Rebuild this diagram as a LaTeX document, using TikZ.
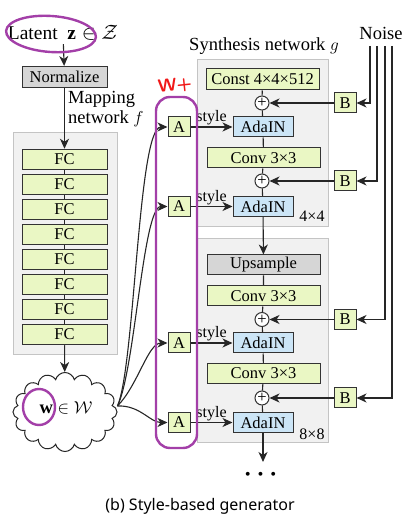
\documentclass[tikz,border=0pt]{standalone}
\usepackage{amsmath,amssymb}
\usepackage{fontspec}
\setmainfont{Liberation Serif}
\newfontfamily\capfont{Noto Sans}
\usetikzlibrary{arrows.meta,shapes.symbols}
\definecolor{fcgreen}{HTML}{EAF7C4}
\definecolor{adablue}{HTML}{CCE5F6}
\definecolor{boxgray}{HTML}{D6D6D6}
\definecolor{panelgray}{HTML}{F1F1F1}
\definecolor{panelline}{HTML}{C4C4C4}
\definecolor{markpurple}{HTML}{A33FA8}
\definecolor{markred}{HTML}{F01818}

\begin{document}
\begin{tikzpicture}[x=1pt, y=1pt,
	every node/.style={font=\fontsize{16.5}{18}\selectfont},
	blk/.style={draw=black!80, line width=1pt, minimum height=20pt, inner sep=0pt, anchor=center},
	fcbox/.style={blk, fill=fcgreen},
	adabox/.style={blk, fill=adablue, minimum width=60pt},
	graybox/.style={blk, fill=boxgray},
	smallbox/.style={blk, fill=fcgreen, minimum width=22pt},
	panel/.style={draw=panelline, line width=1pt, fill=panelgray, inner sep=0pt},
	pnode/.style={circle, draw=black!80, line width=1pt, fill=white, minimum size=14pt, inner sep=0pt},
	wire/.style={draw=black!85, line width=1.1pt},
	arr/.style={wire, -{Stealth[length=10pt, width=9pt, inset=3pt]}},
	lbl/.style={font=\fontsize{16}{18}\selectfont, inner sep=1pt},
	ttl/.style={font=\fontsize{18.5}{20}\selectfont},
	penmark/.style={draw=markpurple, line width=2.4pt, line cap=round, line join=round}]
	\useasboundingbox (0,0) rectangle (420,525);

	\node[panel, minimum width=104pt, minimum height=222pt] (mapbg) at (65,281) {};
	\node[panel, minimum width=131pt, minimum height=167pt] (synbg1) at (262.5,381.5) {};
	\node[panel, minimum width=131pt, minimum height=204pt] (synbg2) at (262.5,184) {};

	\node[font=\fontsize{19.5}{21}\selectfont] (latent) at (63,492) {Latent\ \ $\mathbf{z}\in\mathcal{Z}$};
	\node[graybox, minimum width=85pt, minimum height=21pt] (norm) at (64.5,448) {Normalize};
	\node[ttl, anchor=north west, align=left, inner sep=0pt] (maplbl) at (68,434) {Mapping\\network $f$};
	\foreach \i [evaluate=\i as \y using 365.5-25*(\i-1)] in {1,...,8}
		\node[fcbox, minimum width=85pt, minimum height=20.5pt] (fc\i) at (64.5,\y) {FC};
	\foreach \i [count=\j from 2] in {1,...,7}
		\draw[wire] (fc\i) -- (fc\j);
	\node[cloud, draw=black!85, line width=1pt, fill=white, cloud puffs=16, aspect=1.35, minimum width=104pt, minimum height=79pt, inner sep=0pt] (w) at (65,113) {};
	\node[ttl] (wlbl) at (66,117) {$\mathbf{w}\in\mathcal{W}$};
	\draw[arr] (latent) -- (norm);
	\draw[arr] (norm) -- (fc1);
	\draw[arr] (fc8) -- (w);

	\node[ttl] (synlbl) at (264,479) {Synthesis network $g$};
	\node[fcbox, minimum width=113pt, minimum height=21pt] (const) at (262.5,445.5) {Const 4×4×512};
	\node[pnode] (p1) at (262,422) {+};
	\node[adabox] (ada1) at (263,398) {AdaIN};
	\node[fcbox, minimum width=113pt] (conv1) at (263.5,367) {Conv 3×3};
	\node[pnode] (p2) at (262,344) {+};
	\node[adabox] (ada2) at (263,318.5) {AdaIN};
	\node[lbl] (res1) at (312,309) {4×4};
	\node[graybox, minimum width=113pt] (up) at (263.5,260) {Upsample};
	\node[fcbox, minimum width=113pt] (conv2) at (263.5,229) {Conv 3×3};
	\node[pnode] (p3) at (262,205.5) {+};
	\node[adabox] (ada3) at (263,182) {AdaIN};
	\node[fcbox, minimum width=113pt] (conv3) at (263.5,151.5) {Conv 3×3};
	\node[pnode] (p4) at (262,127) {+};
	\node[adabox] (ada4) at (263,102.5) {AdaIN};
	\node[lbl] (res2) at (312,91) {8×8};
	\coordinate (out) at (263,63);
	\node[font=\fontsize{30}{30}\selectfont\boldmath] (dots) at (263,50) {$\cdots$};
	\draw[wire] (const) -- (p1) -- (ada1) -- (conv1) -- (p2) -- (ada2);
	\draw[arr] (ada2) -- (up);
	\draw[wire] (up) -- (conv2) -- (p3) -- (ada3) -- (conv3) -- (p4) -- (ada4);
	\draw[arr] (ada4) -- (out);

	\node[ttl] (noise) at (381,492) {Noise};
	\foreach \n/\x/\y in {1/370/422, 2/377/344, 3/385/205.5, 4/392/127} {
		\coordinate (n\n) at (\x,479);
		\node[smallbox] (b\n) at (345,\y) {B};
		\draw[arr] (n\n) |- (b\n);
		\draw[arr] (b\n) -- (p\n);
	}

	\coordinate (wout) at ([yshift=6pt]w.east);
	\foreach \n/\y in {1/398, 2/318.5, 3/182, 4/102.5} {
		\node[smallbox] (a\n) at (179,\y) {A};
		\draw[arr] (a\n) -- node[lbl, above] {style} (ada\n);
	}
	\draw[arr] (wout) .. controls (135,160) and (138,398) .. (a1.west);
	\draw[arr] (wout) .. controls (135,155) and (143,318.5) .. (a2.west);
	\draw[arr] (wout) .. controls (138,140) and (148,182) .. (a3.west);
	\draw[arr] (wout) .. controls (140,120) and (150,102.5) .. (a4.west);

	\node[font=\capfont\fontsize{16}{18}\selectfont] (cap) at (200,19) {(b) Style-based generator};

	\draw[penmark, rotate around={-4:(51,491)}] (51,491) ellipse (45pt and 18pt);
	\draw[penmark, rounded corners=14pt] (156,428) rectangle (197,77);
	\draw[penmark] (39,118) ellipse (16pt and 18pt);
	\node[text=markred, rotate=6, font=\sffamily\bfseries\fontsize{18}{18}\selectfont] (wplus) at (175,439) {W+};
\end{tikzpicture}
\end{document}
